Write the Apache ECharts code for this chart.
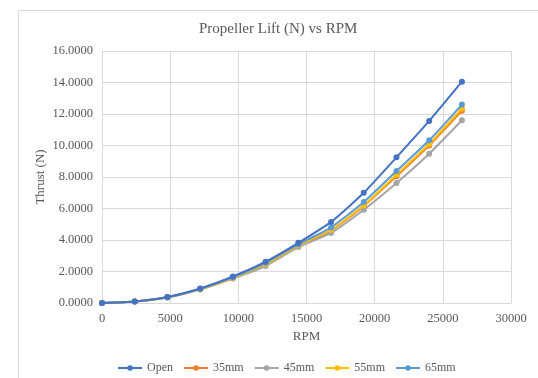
<!DOCTYPE html>
<html>
<head>
<meta charset="utf-8">
<script src="https://cdn.jsdelivr.net/npm/echarts@6/dist/echarts.min.js"></script>
<style>html,body{margin:0;padding:0;background:#fff}#c{width:538px;height:378px}</style>
</head>
<body>
<div id="c"></div>
<script>
const rpm = [0, 2400, 4800, 7200, 9600, 12000, 14400, 16800, 19200, 21600, 24000, 26400];
const seriesNames = ['Open', '35mm', '45mm', '55mm', '65mm'];
const openVals = [0, 0.10, 0.38, 0.92, 1.68, 2.62, 3.82, 5.15, 7.00, 9.25, 11.56, 14.05];
const mm35Vals = [0, 0.09, 0.36, 0.88, 1.60, 2.45, 3.62, 4.60, 6.15, 8.05, 10.00, 12.20];
const mm45Vals = [0, 0.09, 0.35, 0.85, 1.55, 2.35, 3.55, 4.45, 5.92, 7.62, 9.48, 11.60];
const mm55Vals = [0, 0.09, 0.36, 0.88, 1.60, 2.48, 3.65, 4.65, 6.20, 8.15, 10.10, 12.35];
const mm65Vals = [0, 0.10, 0.37, 0.90, 1.64, 2.55, 3.72, 4.80, 6.41, 8.38, 10.33, 12.60];
const colors = ['#4472C4', '#ED7D31', '#A5A5A5', '#FFC000', '#5B9BD5'];
const allVals = [openVals, mm35Vals, mm45Vals, mm55Vals, mm65Vals];

const font = 'Liberation Serif';
const txt = '#595959';
const chart = echarts.init(document.getElementById('c'));
chart.setOption({
  animation: false,
  textStyle: { fontFamily: font },
  graphic: [{
    type: 'rect', shape: { x: 18.5, y: 10.5, width: 560, height: 400 },
    style: { fill: 'none', stroke: '#D9D9D9', lineWidth: 1 }, silent: true, z: -1
  }],
  title: {
    text: 'Propeller Lift (N) vs RPM', left: 194, top: 17,
    textStyle: { fontFamily: font, fontSize: 15, fontWeight: 'normal', color: txt }
  },
  legend: {
    bottom: -1, left: 112, itemWidth: 24, itemHeight: 7, itemGap: 10,
    textStyle: { fontFamily: font, fontSize: 12, color: txt },
    data: seriesNames
  },
  grid: { left: 102, top: 51, width: 409, height: 252, containLabel: false },
  xAxis: {
    type: 'value', min: 0, max: 30000, interval: 5000,
    name: 'RPM', nameLocation: 'middle', nameGap: 26,
    nameTextStyle: { fontFamily: font, fontSize: 13, color: txt },
    axisLine: { lineStyle: { color: '#D9D9D9' } },
    axisTick: { show: false },
    axisLabel: { fontFamily: font, fontSize: 12.5, color: txt, margin: 9,
      formatter: v => String(v) },
    splitLine: { show: true, lineStyle: { color: '#D9D9D9' } }
  },
  yAxis: {
    type: 'value', min: 0, max: 16, interval: 2,
    name: 'Thrust (N)', nameLocation: 'middle', nameGap: 55, nameMoveOverlap: false,
    nameTextStyle: { fontFamily: font, fontSize: 13, color: txt },
    axisLine: { show: false },
    axisTick: { show: false },
    axisLabel: { fontFamily: font, fontSize: 12.5, color: txt, margin: 9,
      formatter: v => v.toFixed(4) },
    splitLine: { lineStyle: { color: '#D9D9D9' } }
  },
  series: seriesNames.map((n, i) => ({
    name: n, type: 'line', smooth: 0.2,
    data: rpm.map((x, j) => [x, allVals[i][j]]),
    symbol: 'circle', symbolSize: 6,
    color: colors[i],
    lineStyle: { width: 2, color: colors[i] },
    itemStyle: { color: colors[i] },
    z: i === 0 ? 5 : (i === 4 ? 4 : 2 + (i === 3 ? 1 : 0))
  }))
});
</script>
</body>
</html>
